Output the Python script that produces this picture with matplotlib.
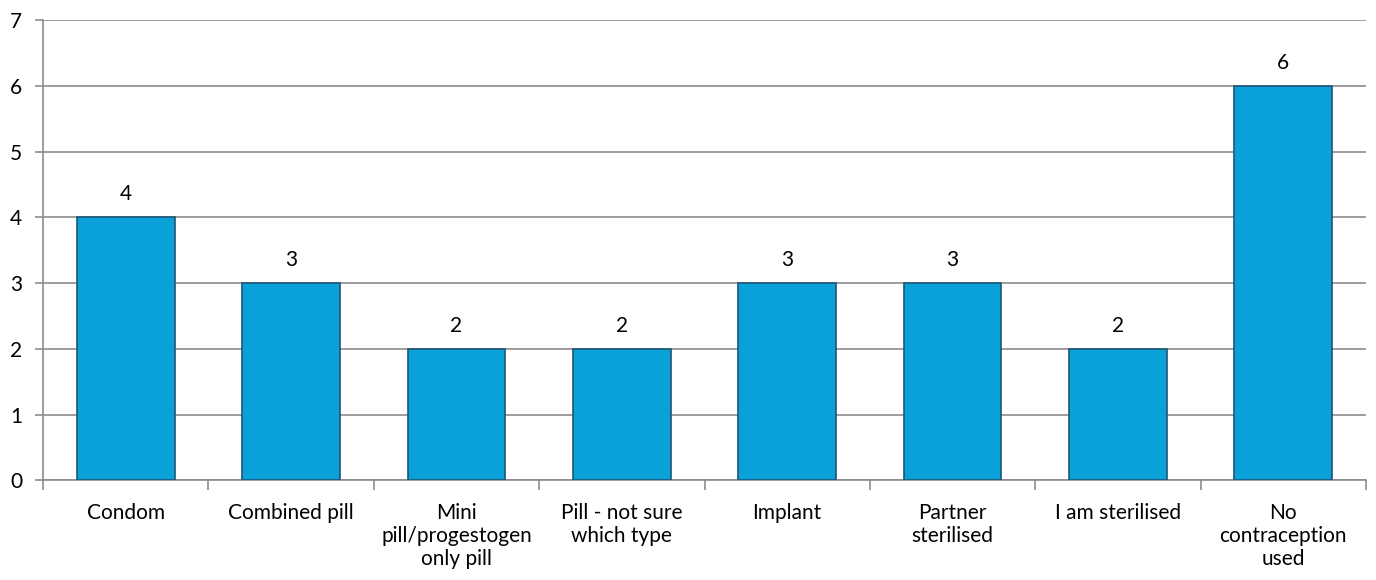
"""
Contraception method counts - bar chart recreated in the Excel style.
"""
import matplotlib.pyplot as plt
import numpy as np

# Categories and counts
CATEGORIES = ['Condom', 'Combined pill', 'Mini\npill/progestogen\nonly pill',
              'Pill - not sure\nwhich type', 'Implant', 'Partner\nsterilised',
              'I am sterilised', 'No\ncontraception\nused']
COUNTS = [4, 3, 2, 2, 3, 3, 2, 6]
Y_TICKS = [0, 1, 2, 3, 4, 5, 6, 7]

BAR_COLOR = '#0aa0d8'
EDGE_COLOR = '#1d5676'
GRID_COLOR = '#8c8c8c'
FONT_SIZE = 15

plt.rcParams['font.family'] = ['Lato', 'DejaVu Sans']

fig = plt.figure(figsize=(13.76, 5.8), dpi=100)
ax = fig.add_axes([0.0313, 0.1716, 0.9614, 0.7939])

x = np.arange(len(CATEGORIES))
bars = ax.bar(x, COUNTS, width=0.59, color=BAR_COLOR, edgecolor=EDGE_COLOR,
              linewidth=1.2, zorder=3)

# Value labels above bars
for xi, v in zip(x, COUNTS):
    ax.text(xi, v + 0.2, str(v), ha='center', va='bottom', fontsize=FONT_SIZE, color='black')

ax.set_xlim(-0.5, len(CATEGORIES) - 0.5)
ax.set_ylim(0, 7)
ax.set_yticks(Y_TICKS)
ax.tick_params(axis='y', length=6, width=1.2, color=GRID_COLOR, labelsize=FONT_SIZE, pad=9)

# Category ticks sit between the bars
ax.set_xticks(np.arange(-0.5, len(CATEGORIES)), minor=False)
ax.set_xticklabels([])
ax.set_xticks(x, minor=True)
ax.set_xticklabels(CATEGORIES, minor=True, fontsize=FONT_SIZE, linespacing=1.2)
ax.tick_params(axis='x', which='major', length=7, width=1.2, color=GRID_COLOR)
ax.tick_params(axis='x', which='minor', length=0, pad=16)

ax.grid(axis='y', color=GRID_COLOR, linewidth=1.2, zorder=0)
for side in ['top', 'right']:
    ax.spines[side].set_visible(False)
for side in ['left', 'bottom']:
    ax.spines[side].set_color(GRID_COLOR)
    ax.spines[side].set_linewidth(1.2)

fig.savefig('out.png', dpi=100)
